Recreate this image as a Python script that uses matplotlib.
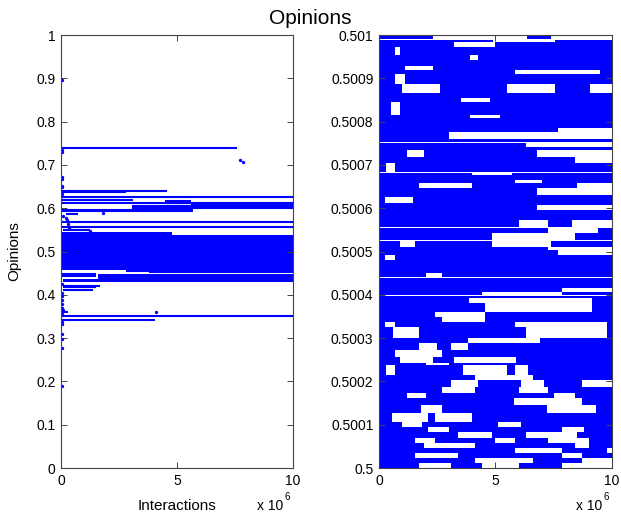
import matplotlib
matplotlib.use('Agg')
import matplotlib.pyplot as plt

plt.rcParams['font.family'] = ['Liberation Sans', 'DejaVu Sans']

BLUE = '#0000ff'

# ---- left panel: full opinion range, x in units of 1e6 interactions
line_y = [0.738, 0.640, 0.637, 0.627, 0.619, 0.616, 0.613, 0.612, 0.606, 0.601,
          0.597, 0.593, 0.586, 0.569, 0.557, 0.549, 0.455, 0.452, 0.449, 0.443,
          0.421, 0.417, 0.412, 0.360, 0.351, 0.342]
line_x0 = [0, 0, 0, 0, 0, 4.5, 4.5, 0, 3.05, 3.05,
           0, 0, 0.2, 0, 0, 0.1, 2.8, 3.8, 0, 0,
           0.1, 0.1, 0.1, 0, 0, 0]
line_x1 = [7.6, 4.55, 2.8, 10, 3.1, 5.6, 5.6, 10, 10, 10,
           5.7, 5.7, 0.75, 10, 10, 1.25, 10, 10, 1.5, 1.5,
           1.7, 1.5, 1.4, 0.3, 10, 4.05]

# dense clusters (low, high, start, end)
block_lo = [0.598, 0.539, 0.457, 0.436, 0.430]
block_hi = [0.610, 0.546, 0.539, 0.448, 0.436]
block_x0 = [5.6, 0, 0, 1.6, 0.1]
block_x1 = [10, 4.8, 10, 10, 10]

# isolated agents
dot_x = [0.05, 0.05, 0.05, 0.05, 0.05, 0.05, 0.05, 0.05, 0.1, 0.2, 0.25, 0.3, 0.35,
         0.05, 0.05, 0.05, 0.05, 0.05, 0.05, 0.1, 0.05, 0.05, 0.05, 0.05, 0.05,
         0.05, 0.05, 7.7, 7.85, 4.1, 1.8, 1.25]
dot_y = [0.895, 0.735, 0.730, 0.672, 0.668, 0.652, 0.648, 0.632, 0.583, 0.578, 0.572,
         0.563, 0.555, 0.425, 0.405, 0.398, 0.388, 0.378, 0.370, 0.365, 0.356, 0.337,
         0.333, 0.310, 0.298, 0.278, 0.190, 0.711, 0.707, 0.360, 0.589, 0.548]

left_ticks = [0, 0.1, 0.2, 0.3, 0.4, 0.5, 0.6, 0.7, 0.8, 0.9, 1]
left_labels = ['0', '0.1', '0.2', '0.3', '0.4', '0.5', '0.6', '0.7', '0.8', '0.9', '1']

# ---- right panel: zoom 0.5 .. 0.501, band edges in 1e-6 above 0.5
band_edges = [1000, 990, 984, 972, 954, 942, 928, 920, 910, 887,
              866, 854, 845, 815, 808, 785, 776, 760, 752, 741,
              734, 718, 704, 683, 677, 665, 658, 647, 630, 626,
              612, 607, 596, 573, 556, 543, 526, 510, 503, 492,
              480, 450, 440, 416, 406, 399, 393, 381, 360, 349,
              337, 326, 300, 289, 272, 256, 242, 238, 215, 203,
              187, 173, 162, 145, 127, 106, 95, 83, 69, 58,
              46, 35, 23, 12, 0]
band_pieces = [
    [(0, 2.3), (6.35, 7.4)],
    [(0, 4.9), (7.55, 10)],
    [(0, 3.2), (5.0, 10)],
    [(0, 0.7), (0.9, 10)],
    [(0, 3.9), (4.25, 10)],
    [(0, 10)],
    [(0, 1.1), (2.3, 10)],
    [(0, 5.85), (9.5, 10)],
    [(0, 0.7), (1.1, 10)],
    [(0, 1.0), (2.6, 5.5), (7.55, 9.05)],
    [(0, 10)],
    [(0, 3.5), (4.75, 10)],
    [(0, 0.5), (0.9, 10)],
    [(0, 3.9), (5.2, 10)],
    [(0, 10)],
    [(0, 7.7)],
    [(0, 3.0)],
    [(0, 10)],
    [(0, 6.3)],
    [(0, 10)],
    [(0, 1.2), (1.95, 6.8)],
    [(0, 8.4)],
    [(0, 0.3), (0.7, 10)],
    [(0, 4.0), (5.7, 10)],
    [(0, 10)],
    [(0, 5.85), (7.0, 10)],
    [(0, 1.7), (4.0, 8.5)],
    [(0, 6.8)],
    [(0, 10)],
    [(0, 0.26), (1.45, 10)],
    [(0, 10)],
    [(0, 6.8)],
    [(0, 10)],
    [(0, 6.0), (7.25, 8.3)],
    [(0, 7.25), (9.4, 10)],
    [(0, 4.85), (8.4, 10)],
    [(0, 0.9), (1.55, 4.85), (7.4, 10)],
    [(0, 7.25)],
    [(0, 7.7)],
    [(0, 0.26), (0.7, 10)],
    [(0, 10)],
    [(0, 2.0), (2.7, 10)],
    [(0, 10)],
    [(0, 7.85)],
    [(0, 4.4), (7.85, 10)],
    [(0, 10)],
    [(0, 3.85), (9.15, 10)],
    [(0, 4.55), (9.15, 10)],
    [(0, 2.4), (4.55, 10)],
    [(0, 2.7), (4.55, 10)],
    [(0, 0.26), (0.7, 5.85), (9.8, 10)],
    [(0, 0.6), (1.7, 6.3), (9.8, 10)],
    [(0, 3.8), (6.9, 10)],
    [(0, 1.7), (2.5, 3.1), (3.8, 10)],
    [(0, 0.7), (2.7, 10)],
    [(0, 0.9), (2.3, 3.2), (5.9, 10)],
    [(0, 2.0), (3.0, 10)],
    [(0, 0.3), (0.7, 3.6), (5.5, 5.85), (6.4, 10)],
    [(0, 4.1), (6.6, 10)],
    [(0, 3.1), (4.25, 6.1), (7.1, 8.7)],
    [(0, 2.7), (4.1, 6.0), (7.25, 10)],
    [(0, 1.2), (2.0, 7.5), (8.4, 10)],
    [(0, 5.8), (8.7, 10)],
    [(0, 1.8), (2.7, 7.2), (9.3, 10)],
    [(0, 0.55), (2.1, 2.4), (4.0, 10)],
    [(0, 1.0), (1.85, 5.1), (6.1, 10)],
    [(0, 2.1), (3.0, 7.85), (8.8, 10)],
    [(0, 3.4), (4.85, 6.3), (8.5, 10)],
    [(0, 1.55), (2.4, 5.0), (5.85, 7.25), (9.0, 10)],
    [(0, 1.95), (4.1, 8.4), (9.0, 10)],
    [(0, 5.85), (7.85, 9.8)],
    [(0, 1.55), (3.4, 7.85), (8.7, 10)],
    [(0, 4.1), (6.6, 8.7)],
    [(0, 1.7), (3.1, 4.4), (6.0, 7.85)],
]

right_ticks = [0.5, 0.5001, 0.5002, 0.5003, 0.5004, 0.5005, 0.5006, 0.5007, 0.5008, 0.5009, 0.501]
right_labels = ['0.5', '0.5001', '0.5002', '0.5003', '0.5004', '0.5005',
                '0.5006', '0.5007', '0.5008', '0.5009', '0.501']

x_ticks = [0, 5, 10]
x_labels = ['0', '5', '10']

fig = plt.figure(figsize=(6.21, 5.21), dpi=100)
ax1 = fig.add_axes([0.0982, 0.1017, 0.3736, 0.8311])
ax2 = fig.add_axes([0.6103, 0.1017, 0.3752, 0.8311])

# left
ax1.hlines(line_y, line_x0, line_x1, colors=BLUE, lw=1.5)
for lo, hi, a, b in zip(block_lo, block_hi, block_x0, block_x1):
    ax1.broken_barh([(a, b - a)], (lo, hi - lo), facecolors=BLUE, edgecolor='none')
ax1.plot(dot_x, dot_y, 'o', color=BLUE, ms=2.4, mec='none')
ax1.set_xlim(0, 10)
ax1.set_ylim(0, 1)
ax1.set_yticks(left_ticks)
ax1.set_yticklabels(left_labels)
ax1.set_ylabel('Opinions', fontsize=11)
ax1.yaxis.set_label_coords(-0.17, 0.5)
ax1.set_xlabel('Interactions', fontsize=11)
ax1.xaxis.set_label_coords(0.5, -0.072)

# right: a thin seam is left between neighbouring bands
for i, pieces in enumerate(band_pieces):
    hi = 0.5 + (band_edges[i] - 0.6) * 1e-6
    lo = 0.5 + band_edges[i + 1] * 1e-6
    ax2.broken_barh([(a, b - a) for a, b in pieces], (lo, hi - lo),
                    facecolors=BLUE, edgecolor='none')
ax2.set_xlim(0, 10)
ax2.set_ylim(0.5, 0.501)
ax2.set_yticks(right_ticks)
ax2.set_yticklabels(right_labels)

for ax in (ax1, ax2):
    ax.set_xticks(x_ticks)
    ax.set_xticklabels(x_labels)
    ax.tick_params(direction='in', length=4, width=0.7, color='#444444',
                   top=True, right=True, labelsize=10, pad=4)
    for s in ax.spines.values():
        s.set_color('#444444')
        s.set_linewidth(0.8)
    ax.text(0.957, -0.088, 'x 10', transform=ax.transAxes, ha='right', va='center', fontsize=10)
    ax.text(0.962, -0.068, '6', transform=ax.transAxes, ha='left', va='center', fontsize=7)

fig.text(0.5, 0.965, 'Opinions', ha='center', va='center', fontsize=15)

fig.savefig('out.png', dpi=100)
